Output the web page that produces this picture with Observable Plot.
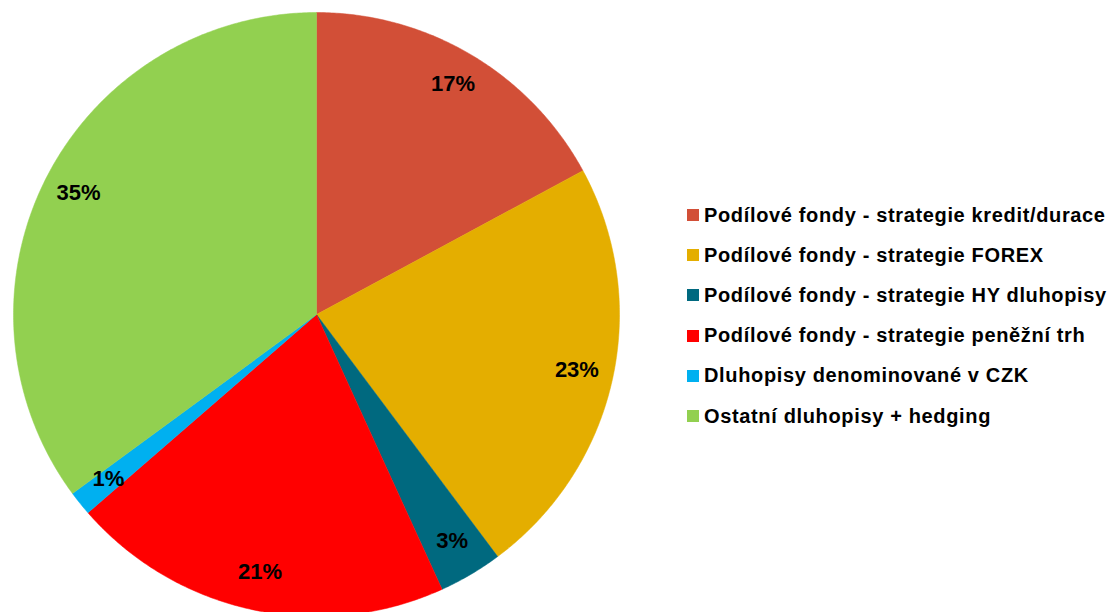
<!DOCTYPE html>
<html>
<head>
<meta charset="utf-8">
<script src="https://cdn.jsdelivr.net/npm/d3@7"></script>
<script src="https://cdn.jsdelivr.net/npm/@observablehq/plot@0.6"></script>
<style>
  html, body { margin: 0; padding: 0; background: #fff; }
  #wrap { position: relative; width: 1114px; height: 612px; overflow: hidden; font-family: "Liberation Sans", Arial, sans-serif; }
  #legend { position: absolute; left: 687px; top: 195px; }
  .item { display: flex; align-items: center; height: 40.2px; font-weight: bold; font-size: 20px; letter-spacing: 0.65px; color: #000; white-space: nowrap; }
  .sw { width: 12px; height: 12px; margin-right: 5px; flex: none; }
</style>
</head>
<body>
<div id="wrap"><div id="chart"></div><div id="legend"></div></div>
<script>
const categories = [
  "Podílové fondy - strategie kredit/durace",
  "Podílové fondy - strategie FOREX",
  "Podílové fondy - strategie HY dluhopisy",
  "Podílové fondy - strategie peněžní trh",
  "Dluhopisy denominované v CZK",
  "Ostatní dluhopisy + hedging"
];
const values = [17.1, 22.7, 3.4, 20.4, 1.3, 35.1];
const labels = ["17%", "23%", "3%", "21%", "1%", "35%"];
const colors = ["#D24F37", "#E4AE00", "#00697F", "#FF0000", "#00B0F0", "#92D050"];

const pie = d3.pie().sort(null).value(d => d.value);
const arcs = pie(categories.map((c, i) => ({cat: c, value: values[i], label: labels[i]})));

// slice polygons in unit-circle data coordinates
const slicePts = [];
arcs.forEach(a => {
  slicePts.push({cat: a.data.cat, x: 0, y: 0});
  const n = Math.max(2, Math.ceil((a.endAngle - a.startAngle) * 120));
  for (let k = 0; k <= n; k++) {
    const t = a.startAngle + (a.endAngle - a.startAngle) * k / n;
    slicePts.push({cat: a.data.cat, x: Math.sin(t), y: Math.cos(t)});
  }
  slicePts.push({cat: a.data.cat, x: 0, y: 0});
});
const labelPts = arcs.map(a => {
  const m = (a.startAngle + a.endAngle) / 2;
  const r = 0.88;
  return {label: a.data.label, x: r * Math.sin(m), y: r * Math.cos(m)};
});

const chart = Plot.plot({
  width: 1114,
  height: 612,
  margin: 0,
  x: {domain: [-1, 1], range: [13, 619], axis: null},
  y: {domain: [-1, 1], range: [616, 12], axis: null},
  color: {domain: categories, range: colors},
  style: {background: "transparent"},
  marks: [
    Plot.line(slicePts, {x: "x", y: "y", z: "cat", fill: "cat", stroke: "cat", strokeWidth: 0.5, curve: "linear"}),
    Plot.text(labelPts, {x: "x", y: "y", text: "label", fontSize: 22, fontWeight: "bold", fill: "#000", dy: -2, fontFamily: "Liberation Sans, Arial, sans-serif"})
  ]
});
document.getElementById("chart").appendChild(chart);

const leg = document.getElementById("legend");
categories.forEach((c, i) => {
  const it = document.createElement("div");
  it.className = "item";
  it.innerHTML = `<span class="sw" style="background:${colors[i]}"></span><span>${c}</span>`;
  leg.appendChild(it);
});
</script>
</body>
</html>
